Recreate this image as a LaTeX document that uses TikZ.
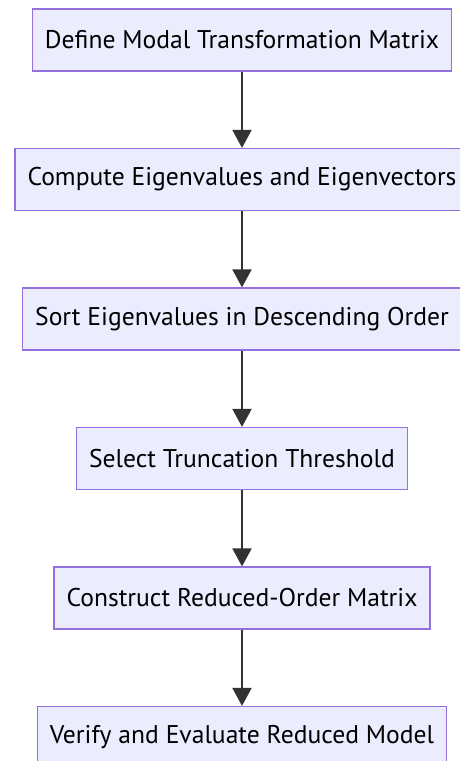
\documentclass[tikz,border=0pt]{standalone}
\usepackage{fontspec}
\setmainfont{PT Sans}
\usepackage{tikz}
\usetikzlibrary{arrows.meta,positioning}
\definecolor{boxfill}{HTML}{ECECFF}
\definecolor{boxline}{HTML}{9370DB}
\definecolor{arrowgray}{HTML}{333333}

\begin{document}
\begin{tikzpicture}[font=\fontsize{25.6pt}{30pt}\selectfont,
  node distance=76.3pt,
  stepbox/.style={draw=boxline,fill=boxfill,line width=1.2pt,minimum height=62pt,inner xsep=12.5pt,text=black},
  flow/.style={draw=arrowgray,line width=2pt,-{Triangle[length=18pt,width=19pt]}}]
\useasboundingbox (0,0) rectangle (460pt,-761pt);
\node[stepbox] (define) at (242pt,-40pt) {Define Modal Transformation Matrix};
\node[stepbox,below=of define] (eigen) {Compute Eigenvalues and Eigenvectors};
\node[stepbox,below=of eigen] (sort) {Sort Eigenvalues in Descending Order};
\node[stepbox,below=of sort] (thresh) {Select Truncation Threshold};
\node[stepbox,below=of thresh] (reduced) {Construct Reduced-Order Matrix};
\node[stepbox,below=of reduced] (verify) {Verify and Evaluate Reduced Model};
\draw[flow] (define) -- (eigen);
\draw[flow] (eigen) -- (sort);
\draw[flow] (sort) -- (thresh);
\draw[flow] (thresh) -- (reduced);
\draw[flow] (reduced) -- (verify);
\end{tikzpicture}
\end{document}
